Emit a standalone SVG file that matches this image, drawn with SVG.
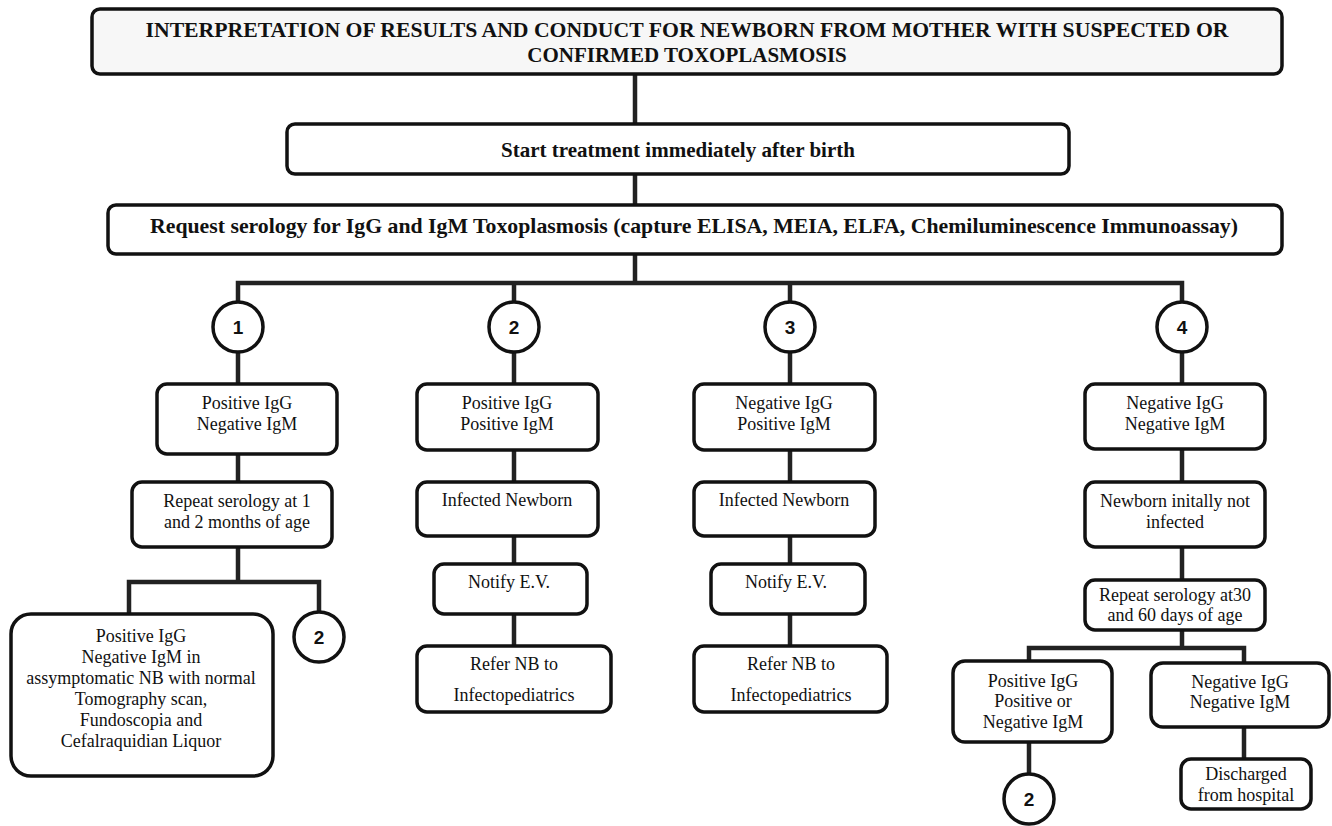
<svg xmlns="http://www.w3.org/2000/svg" width="1332" height="826" viewBox="0 0 1332 826">
<style>
.bx{fill:#ffffff;stroke:#111;stroke-width:3.5}
.tb{fill:#f7f7f7;stroke:#111;stroke-width:3.5}
.ci{fill:#ffffff;stroke:#111;stroke-width:3.5}
.t{font-family:"Liberation Serif","Times New Roman",serif;font-size:18px;fill:#111;text-anchor:middle}
.b{font-family:"Liberation Serif","Times New Roman",serif;font-size:21px;font-weight:bold;fill:#111;text-anchor:middle}
.n{font-family:"Liberation Sans",Arial,sans-serif;font-size:19px;font-weight:bold;fill:#111;text-anchor:middle}
.c{fill:none;stroke:#222;stroke-width:4.5;stroke-linecap:butt;stroke-linejoin:miter}
</style>
<rect width="1332" height="826" fill="#ffffff"/>
<g id="connectors">
<path class="c" d="M635 72V125M635 173V206M635 254V283"/>
<path class="c" d="M238 302V283H1182V302M514 283V302M790 283V302"/>
<path class="c" d="M238 352V384M238 454V482M238 547V582M129 614V582H319V612"/>
<path class="c" d="M514 352V384M514 450V482M514 536V564M514 614V646"/>
<path class="c" d="M790 352V384M790 450V482M790 536V564M790 614V646"/>
<path class="c" d="M1182 352V384M1182 449V482M1182 547V580M1182 630V648M1029 661V648H1244V663M1244 727V759M1029 742V774"/>
</g>
<g id="title">
<rect class="tb" x="92" y="9" width="1190" height="65" rx="8"/>
<text class="b" x="687" y="37" textLength="1083" lengthAdjust="spacingAndGlyphs">INTERPRETATION OF RESULTS AND CONDUCT FOR NEWBORN FROM MOTHER WITH SUSPECTED OR</text>
<text class="b" x="687" y="62">CONFIRMED TOXOPLASMOSIS</text>
</g>
<g id="start">
<rect class="bx" x="287" y="124" width="782" height="50" rx="8"/>
<text class="b" x="678" y="157">Start treatment immediately after birth</text>
</g>
<g id="request">
<rect class="bx" x="108" y="205" width="1174" height="49" rx="8"/>
<text class="b" x="694" y="233" textLength="1088" lengthAdjust="spacingAndGlyphs">Request serology for IgG and IgM Toxoplasmosis (capture ELISA, MEIA, ELFA,  Chemiluminescence Immunoassay)</text>
</g>
<g id="c1"><circle class="ci" cx="238" cy="327" r="25"/><text class="n" x="238" y="334">1</text></g>
<g id="c2"><circle class="ci" cx="514" cy="327" r="25"/><text class="n" x="514" y="334">2</text></g>
<g id="c3"><circle class="ci" cx="790" cy="327" r="25"/><text class="n" x="790" y="334">3</text></g>
<g id="c4"><circle class="ci" cx="1182" cy="327" r="25"/><text class="n" x="1182" y="334">4</text></g>
<g id="n1a">
<rect class="bx" x="157" y="384" width="180" height="70" rx="10"/>
<text class="t" x="247" y="409">Positive IgG</text>
<text class="t" x="247" y="430">Negative IgM</text>
</g>
<g id="n1b">
<rect class="bx" x="132" y="482" width="200" height="65" rx="10"/>
<text class="t" x="237" y="507">Repeat serology at 1</text>
<text class="t" x="237" y="528">and 2 months of age</text>
</g>
<g id="n1c">
<rect class="bx" x="11" y="614" width="262" height="162" rx="20"/>
<text class="t" x="141" y="642">Positive IgG</text>
<text class="t" x="141" y="663">Negative IgM in</text>
<text class="t" x="141" y="684">assymptomatic NB with normal</text>
<text class="t" x="141" y="705">Tomography scan,</text>
<text class="t" x="141" y="726">Fundoscopia and</text>
<text class="t" x="141" y="747">Cefalraquidian Liquor</text>
</g>
<g id="c1r"><circle class="ci" cx="319" cy="637" r="25"/><text class="n" x="319" y="644">2</text></g>
<g id="n2a">
<rect class="bx" x="417" y="384" width="181" height="66" rx="10"/>
<text class="t" x="507" y="409">Positive IgG</text>
<text class="t" x="507" y="430">Positive IgM</text>
</g>
<g id="n2b">
<rect class="bx" x="417" y="482" width="181" height="54" rx="10"/>
<text class="t" x="507" y="506">Infected Newborn</text>
</g>
<g id="n2c">
<rect class="bx" x="434" y="564" width="153" height="50" rx="10"/>
<text class="t" x="509" y="588">Notify E.V.</text>
</g>
<g id="n2d">
<rect class="bx" x="417" y="646" width="194" height="66" rx="10"/>
<text class="t" x="514" y="670">Refer NB to</text>
<text class="t" x="514" y="701">Infectopediatrics</text>
</g>
<g id="n3a">
<rect class="bx" x="694" y="384" width="181" height="66" rx="10"/>
<text class="t" x="784" y="409">Negative IgG</text>
<text class="t" x="784" y="430">Positive IgM</text>
</g>
<g id="n3b">
<rect class="bx" x="694" y="482" width="181" height="54" rx="10"/>
<text class="t" x="784" y="506">Infected Newborn</text>
</g>
<g id="n3c">
<rect class="bx" x="711" y="564" width="154" height="50" rx="10"/>
<text class="t" x="786" y="588">Notify E.V.</text>
</g>
<g id="n3d">
<rect class="bx" x="694" y="646" width="193" height="66" rx="10"/>
<text class="t" x="791" y="670">Refer NB to</text>
<text class="t" x="791" y="701">Infectopediatrics</text>
</g>
<g id="n4a">
<rect class="bx" x="1085" y="384" width="180" height="65" rx="10"/>
<text class="t" x="1175" y="409">Negative IgG</text>
<text class="t" x="1175" y="430">Negative IgM</text>
</g>
<g id="n4b">
<rect class="bx" x="1085" y="482" width="180" height="65" rx="10"/>
<text class="t" x="1175" y="507">Newborn initally not</text>
<text class="t" x="1175" y="528">infected</text>
</g>
<g id="n4c">
<rect class="bx" x="1085" y="580" width="180" height="50" rx="10"/>
<text class="t" x="1175" y="601">Repeat serology at30</text>
<text class="t" x="1175" y="621">and 60 days of age</text>
</g>
<g id="n4d">
<rect class="bx" x="953" y="661" width="159" height="81" rx="12"/>
<text class="t" x="1033" y="687">Positive IgG</text>
<text class="t" x="1033" y="707">Positive or</text>
<text class="t" x="1033" y="728">Negative IgM</text>
</g>
<g id="n4e">
<rect class="bx" x="1151" y="663" width="178" height="64" rx="12"/>
<text class="t" x="1240" y="688">Negative IgG</text>
<text class="t" x="1240" y="708">Negative IgM</text>
</g>
<g id="n4f">
<rect class="bx" x="1181" y="759" width="130" height="50" rx="10"/>
<text class="t" x="1246" y="780">Discharged</text>
<text class="t" x="1246" y="801">from hospital</text>
</g>
<g id="c4r"><circle class="ci" cx="1029" cy="799" r="25"/><text class="n" x="1029" y="806">2</text></g>
</svg>
